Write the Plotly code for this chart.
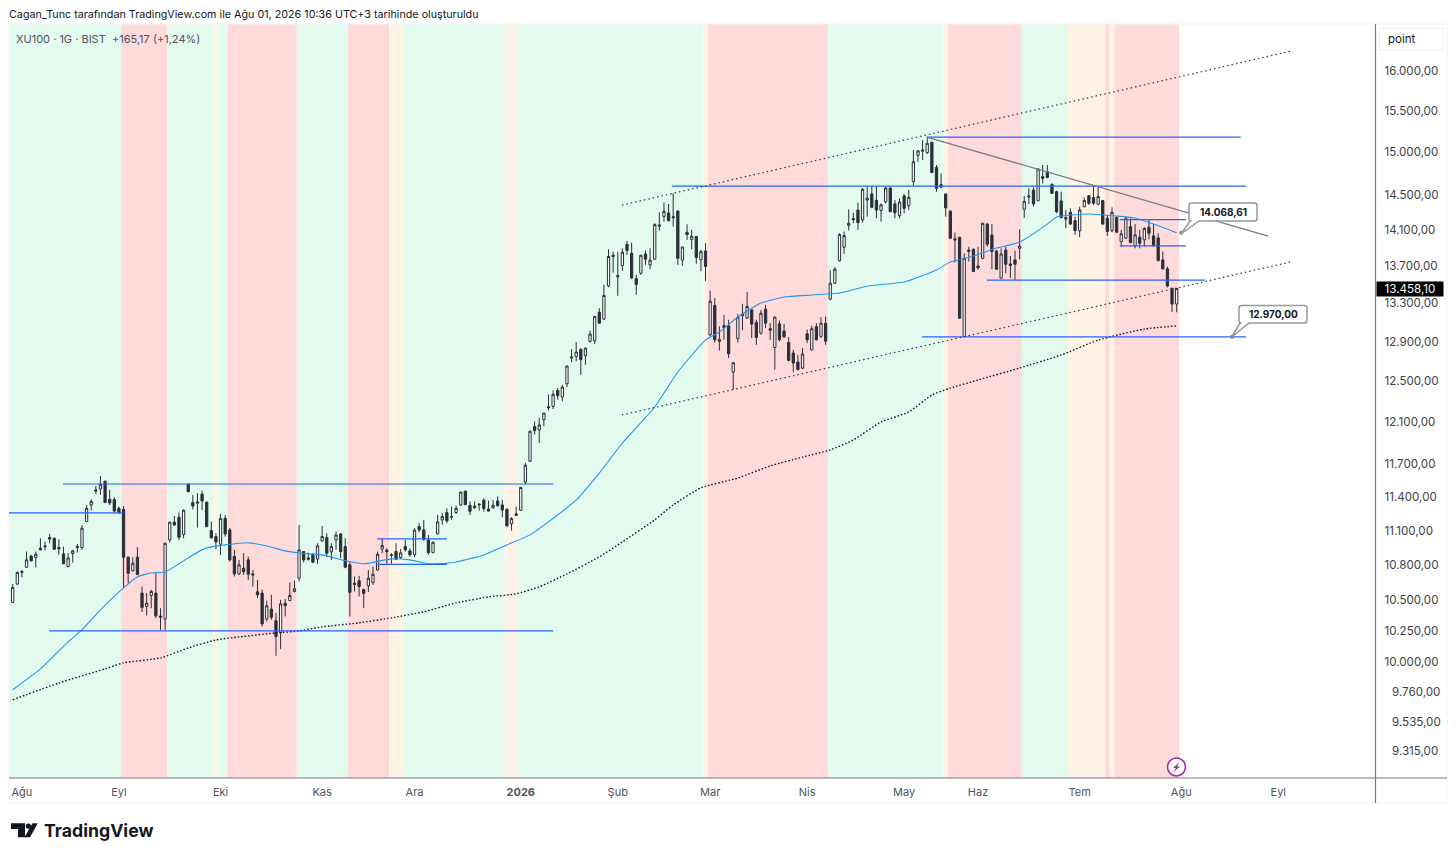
import math

import plotly.graph_objects as go

# bar numbers run from 0 at the first candle of the picture
opens = [
    10483, 10637, 10735, 10780, 10878, 10864, 10945, 10957, 11038, 11032,
    10951, 10896, 10787, 10899, 10951, 10951, 11180, 11328, 11465, 11474,
    11544, 11380, 11377, 11298, 11289, 10867, 10752, 10867, 10561, 10449,
    10541, 10561, 10370, 10345, 11017, 11174, 11218, 11064, 11517, 11350,
    11356, 11426, 11353, 11100, 11047, 10980, 11209, 11106, 10873, 10723,
    10772, 10844, 10723, 10572, 10561, 10345, 10427, 10331, 10235, 10477,
    10499, 10575, 10687, 10916, 10861, 10893, 10850, 11008, 11038, 10913,
    11017, 11070, 10959, 10801, 10645, 10665, 10592, 10623, 10651, 10757,
    10939, 10928, 10881, 10916, 10864, 10959, 10922, 10890, 11135, 11106,
    11017, 10907, 11070, 11195, 11260, 11218, 11260, 11328, 11453, 11325,
    11304, 11337, 11371, 11292, 11301, 11365, 11328, 11289, 11159, 11248,
    11281, 11536, 11730, 12058, 12026, 12124, 12250, 12253, 12410, 12345,
    12475, 12733, 12750, 12821, 12757, 12903, 12910, 13207, 13134, 13486,
    13805, 13583, 13707, 13940, 13841, 13564, 13623, 13834, 13714, 13776,
    14141, 14253, 14291, 14250, 14314, 13765, 14075, 13992, 14026, 13769,
    13867, 12972, 13277, 12903, 13065, 13065, 12592, 12934, 13186, 13144,
    13231, 13099, 12989, 13238, 13034, 12841, 13085, 13010, 12892, 12784,
    12693, 12632, 12982, 12817, 13055, 12955, 13092, 13345, 13515, 13758,
    13907, 14153, 14228, 14325, 14213, 14440, 14510, 14436, 14321, 14420,
    14579, 14395, 14261, 14487, 14375, 14653, 14963, 15027, 14995, 15118,
    14820, 14587, 14509, 14311, 14000, 14018, 12954, 13877, 13884, 13702,
    13785, 14167, 14044, 13866, 13570, 13877, 13724, 13768, 13895, 14334,
    14474, 14556, 14432, 14711, 14770, 14621, 14536, 14429, 14239, 14300,
    14205, 14090, 14364, 14491, 14468, 14391, 14434, 14231, 14090, 14243,
    13970, 14008, 14137, 13922, 14019, 13989, 14131, 14034, 14011, 13768,
    13670, 13460, 13293,
]
highs = [
    10639, 10745, 10757, 10916, 10887, 10916, 11032, 11003, 11071, 11038,
    11023, 10959, 10902, 10931, 10982, 11150, 11328, 11380, 11501, 11593,
    11550, 11465, 11398, 11313, 11319, 10873, 10867, 10954, 10617, 10561,
    10589, 10729, 10435, 10994, 11180, 11230, 11260, 11289, 11526, 11420,
    11435, 11459, 11359, 11180, 11076, 11248, 11239, 11121, 10931, 10844,
    10902, 10873, 10757, 10673, 10589, 10499, 10547, 10394, 10505, 10511,
    10651, 10667, 11150, 10920, 10907, 10902, 10988, 11141, 11076, 10988,
    11091, 11076, 11032, 10830, 10701, 10707, 10597, 10757, 10787, 10916,
    11026, 10945, 10902, 10988, 10939, 11017, 10945, 11121, 11165, 11195,
    11061, 11003, 11239, 11254, 11298, 11313, 11322, 11450, 11459, 11359,
    11359, 11343, 11389, 11368, 11374, 11405, 11374, 11298, 11218, 11313,
    11490, 11715, 12019, 12108, 12139, 12188, 12368, 12410, 12433, 12466,
    12656, 12824, 12896, 12834, 12841, 13014, 13169, 13249, 13497, 13885,
    13859, 13859, 13896, 13977, 13959, 13605, 13823, 13870, 13896, 14175,
    14299, 14410, 14395, 14517, 14318, 13914, 14164, 14101, 14033, 13878,
    13951, 13433, 13355, 13059, 13179, 13127, 12693, 13189, 13295, 13419,
    13235, 13127, 13231, 13284, 13092, 13162, 13120, 13085, 12948, 12817,
    12767, 12834, 13024, 13065, 13092, 13155, 13162, 13655, 13689, 14063,
    14082, 14333, 14295, 14410, 14575, 14594, 14600, 14594, 14400, 14594,
    14586, 14440, 14460, 14510, 14556, 15027, 15027, 15146, 15178, 15126,
    14848, 14750, 14517, 14326, 14070, 14025, 13839, 13913, 13895, 13913,
    14182, 14175, 14167, 13877, 13895, 13913, 13811, 13870, 14107, 14486,
    14575, 14587, 14809, 14848, 14848, 14632, 14548, 14536, 14326, 14345,
    14250, 14364, 14468, 14498, 14613, 14594, 14441, 14269, 14356, 14250,
    14101, 14250, 14231, 14166, 14101, 14131, 14212, 14166, 14064, 13859,
    13695, 13467, 13465,
]
lows = [
    10477, 10630, 10695, 10775, 10830, 10780, 10925, 10925, 10988, 10931,
    10887, 10808, 10781, 10821, 10907, 10931, 11178, 11278, 11429, 11420,
    11347, 11328, 11260, 11248, 10603, 10645, 10743, 10715, 10403, 10375,
    10435, 10353, 10257, 10257, 10994, 11141, 11017, 11032, 11441, 11289,
    11126, 11283, 11135, 11032, 10936, 10887, 11047, 10830, 10701, 10715,
    10715, 10673, 10617, 10519, 10285, 10326, 10339, 10047, 10100, 10367,
    10494, 10567, 10659, 10821, 10838, 10815, 10810, 11003, 10867, 10844,
    10931, 10858, 10772, 10367, 10575, 10533, 10435, 10570, 10631, 10752,
    10902, 10810, 10810, 10844, 10853, 10916, 10873, 10867, 11085, 11011,
    10887, 10902, 11067, 11150, 11165, 11195, 11248, 11322, 11328, 11239,
    11292, 11278, 11269, 11269, 11298, 11313, 11218, 11135, 11100, 11230,
    11274, 11515, 11724, 11981, 11902, 12061, 12214, 12227, 12319, 12302,
    12443, 12690, 12700, 12565, 12666, 12892, 12875, 13085, 13127, 13472,
    13630, 13380, 13652, 13823, 13564, 13391, 13605, 13714, 13667, 13769,
    14093, 14194, 14194, 14138, 13714, 13703, 13988, 13885, 13725, 13645,
    13539, 12955, 12892, 12811, 12920, 12733, 12417, 12892, 13017, 13140,
    12937, 12868, 12972, 13041, 12920, 12616, 12903, 12937, 12700, 12589,
    12609, 12622, 12885, 12811, 12913, 12937, 12868, 13331, 13507, 13750,
    13834, 14093, 14175, 14101, 14183, 14250, 14345, 14231, 14194, 14400,
    14302, 14231, 14231, 14287, 14325, 14602, 14887, 14907, 14979, 14758,
    14536, 14575, 14250, 14000, 13738, 13137, 12947, 13749, 13641, 13660,
    13774, 13913, 13666, 13663, 13565, 13623, 13570, 13552, 13774, 14235,
    14395, 14364, 14428, 14632, 14691, 14509, 14288, 14231, 14120, 14155,
    14045, 14019, 14356, 14383, 14383, 14383, 14155, 14034, 14075, 14064,
    13914, 14000, 13951, 13895, 13895, 13914, 13996, 13914, 13750, 13666,
    13471, 13209, 13205,
]
closes = [
    10609, 10735, 10743, 10844, 10836, 10893, 10931, 10965, 11026, 10936,
    10939, 10810, 10861, 10922, 10959, 11121, 11298, 11359, 11456, 11517,
    11350, 11347, 11274, 11263, 10867, 10729, 10815, 10718, 10441, 10477,
    10575, 10372, 10361, 10988, 11174, 11150, 11041, 11281, 11450, 11319,
    11347, 11365, 11135, 11035, 11000, 11206, 11070, 10844, 10723, 10801,
    10743, 10720, 10715, 10547, 10306, 10455, 10361, 10202, 10471, 10457,
    10541, 10597, 10931, 10844, 10850, 10824, 10965, 11047, 10902, 10959,
    11061, 10916, 10781, 10567, 10634, 10617, 10558, 10687, 10720, 10893,
    10968, 10916, 10887, 10850, 10905, 10931, 10887, 11103, 11106, 11023,
    10907, 10997, 11177, 11224, 11186, 11224, 11298, 11444, 11331, 11272,
    11319, 11331, 11295, 11274, 11325, 11322, 11283, 11141, 11206, 11236,
    11487, 11693, 12013, 12019, 12073, 12188, 12240, 12371, 12358, 12443,
    12653, 12743, 12794, 12717, 12834, 12979, 13162, 13092, 13384, 13805,
    13819, 13597, 13852, 13870, 13572, 13500, 13819, 13776, 13765, 14160,
    14156, 14310, 14205, 14239, 13786, 13910, 14048, 14029, 13794, 13859,
    13696, 13323, 12920, 12924, 13048, 12777, 12686, 13155, 13172, 13267,
    13082, 12944, 13196, 13092, 13020, 13155, 12920, 12951, 12710, 12683,
    12616, 12774, 12920, 13034, 12920, 13092, 12906, 13515, 13667, 14048,
    14037, 14175, 14216, 14183, 14564, 14462, 14356, 14325, 14385, 14579,
    14306, 14295, 14417, 14345, 14471, 14887, 15015, 15015, 15106, 14758,
    14575, 14618, 14349, 14007, 13989, 13144, 13785, 13863, 13641, 13681,
    14175, 13941, 13859, 13666, 13833, 13720, 13706, 13720, 13920, 14425,
    14486, 14395, 14801, 14691, 14703, 14517, 14307, 14239, 14224, 14166,
    14093, 14326, 14434, 14403, 14403, 14479, 14166, 14083, 14300, 14075,
    14056, 14228, 13959, 14045, 13951, 14116, 14064, 13925, 13761, 13670,
    13485, 13293, 13458.10,
]

ma_fast_bars = [0, 6, 12, 15, 19, 24, 27, 30, 33, 36, 39, 42, 46, 51, 55, 59, 62, 67, 72, 76, 82, 86, 90, 95, 102,
                107, 112, 116, 122, 127, 132, 139, 144, 150, 153, 157, 162, 167, 173, 179, 185, 193, 200, 203, 208,
                213, 218, 224, 226, 233, 239, 243, 247, 252]
ma_fast = [9779, 9943, 10159, 10256, 10421, 10605, 10698, 10732, 10740, 10810, 10887, 10948, 10974, 10992, 10965,
           10922, 10904, 10887, 10836, 10810, 10853, 10844, 10810, 10819, 10887, 10974, 11062, 11177, 11374, 11620,
           11901, 12247, 12593, 12916, 13001, 13156, 13303, 13367, 13389, 13410, 13483, 13527, 13657, 13744, 13810,
           13898, 13965, 14166, 14246, 14280, 14257, 14234, 14166, 14068.61]
ma_slow_bars = [0, 10, 20, 24, 32, 38, 44, 49, 57, 62, 67, 75, 82, 89, 96, 103, 109, 114, 120, 127, 132, 139, 143,
                149, 157, 164, 171, 177, 182, 188, 194, 199, 203, 209, 218, 227, 235, 245, 252]
ma_slow = [9701, 9832, 9943, 9991, 10030, 10110, 10175, 10199, 10232, 10248, 10281, 10314, 10355, 10405, 10479,
           10529, 10555, 10614, 10723, 10870, 11000, 11195, 11329, 11484, 11574, 11686, 11768, 11835, 11930, 12102,
           12199, 12364, 12432, 12513, 12633, 12764, 12917, 13031, 13063]

# drawn levels: start bar, end bar, price
level_starts = [10.9, -0.8, 7.9, 78.9, 78.9, 142.7, 197.9, 196.9, 210.9, 239.7, 239.7]
level_ends = [117, 23.9, 117, 94, 94, 267, 265.9, 267, 258.1, 254, 254]
level_prices = [11519, 11257, 10248, 11027, 10805, 14600, 15182, 12950, 13549, 14217, 13923]

channel_bars = [131.9, 276.7]
channel_upper = [14382, 16256]
channel_lower = [12170, 13745]
trend_bars = [197.9, 271.8]
trend_prices = [15182, 14032]

callout_bars = [253, 264]
callout_prices = [14068.61, 12950]
callout_texts = ["14.068,61", "12.970,00"]

band_edges = [-0.8, 23.5, 33.5, 43.5, 44.5, 46.5, 61.5, 72.5, 81.5, 84.5, 106.5, 109.5, 149.5, 150.5, 176.5, 201.5,
              202.5, 218.5, 228.5, 236.5, 237.5, 238.5, 252.5]
band_kinds = ["up", "down", "up", "flat", "up", "down", "up", "down", "flat", "up", "flat", "up", "flat", "down", "up",
              "flat", "down", "up", "flat", "down", "flat", "down"]
band_colours = {"up": "#e3faee", "down": "#ffdada", "flat": "#fff3e6"}

price_ticks = [16000, 15500, 15000, 14500, 14100, 13700, 13300, 12900, 12500, 12100, 11700, 11400, 11100, 10800,
               10500, 10250, 10000, 9760, 9535, 9315]
price_labels = ["16.000,00", "15.500,00", "15.000,00", "14.500,00", "14.100,00", "13.700,00", "13.300,00",
                "12.900,00", "12.500,00", "12.100,00", "11.700,00", "11.400,00", "11.100,00", "10.800,00",
                "10.500,00", "10.250,00", "10.000,00", "\u20079.760,00", "\u20079.535,00", "\u20079.315,00"]
month_ticks = [2, 23, 45, 67, 87, 110, 131, 151, 172, 193, 209, 231, 253, 274]
month_labels = ["Ağu", "Eyl", "Eki", "Kas", "Ara", "<b>2026</b>", "Şub", "Mar", "Nis", "May", "Haz", "Tem", "Ağu", "Eyl"]

W = 1440
H = 841
FONT = "Inter"
INK = "#2a2e39"


def fx(px):
    return (px - 8) / W


def fy(px):
    return 1 - (px - 8) / H


def poly(points):
    return "M " + " L ".join(f"{fx(x)} {fy(y)}" for x, y in points) + " Z"


def page_text(fig, px, py, text, size, color, anchor="left", **kw):
    fig.add_annotation(xref="paper", yref="paper", x=fx(px), y=fy(py), text=text, showarrow=False,
                       xanchor=anchor, yanchor="middle", font=dict(family=FONT, size=size, color=color), **kw)


def add_line(fig, xs, ys, color, width, dash="solid", shape="linear", smoothing=None):
    fig.add_trace(go.Scatter(x=xs, y=ys, mode="lines", hoverinfo="skip", showlegend=False,
                             line=dict(color=color, width=width, dash=dash, shape=shape, smoothing=smoothing)))


def add_callout(fig, text, tip, box):
    # rounded label box with its tail, page pixels
    x0, y0, x1, y1 = box
    r = 2.5
    p = lambda x, y: f"{fx(x)} {fy(y)}"
    path = (f"M {p(x0 + r, y0)} L {p(x1 - r, y0)} Q {p(x1, y0)} {p(x1, y0 + r)} L {p(x1, y1 - r)} "
            f"Q {p(x1, y1)} {p(x1 - r, y1)} L {p(x0 + 10, y1)} L {p(*tip)} L {p(x0 + 1, y1)} L {p(x0 + r, y1)} "
            f"Q {p(x0, y1)} {p(x0, y1 - r)} L {p(x0, y0 + r)} Q {p(x0, y0)} {p(x0 + r, y0)} Z")
    fig.add_shape(type="path", xref="paper", yref="paper", path=path, fillcolor="white",
                  line=dict(color="#9598a1", width=1.5))
    page_text(fig, (x0 + x1) / 2, (y0 + y1) / 2 - 0.5, f"<b>{text}</b>", 10, "#131722", anchor="center")


def build_figure():
    fig = go.Figure()
    bars = list(range(len(closes)))
    fig.add_trace(go.Candlestick(
        x=bars, open=opens, high=highs, low=lows, close=closes, hoverinfo="skip", showlegend=False,
        increasing=dict(fillcolor="white", line=dict(color=INK, width=1)),
        decreasing=dict(fillcolor=INK, line=dict(color=INK, width=1)),
    ))

    for i, kind in enumerate(band_kinds):
        fig.add_shape(type="rect", xref="x", yref="y domain", x0=band_edges[i], x1=band_edges[i + 1], y0=0, y1=1,
                      fillcolor=band_colours[kind], line_width=0, layer="below")

    add_line(fig, ma_fast_bars, ma_fast, "#2196f3", 1.1, shape="spline", smoothing=0.5)
    add_line(fig, ma_slow_bars, ma_slow, "#131722", 1.4, dash="1.5px,2px", shape="spline", smoothing=0.5)
    for start, end, price in zip(level_starts, level_ends, level_prices):
        add_line(fig, [start, end], [price, price], "#2962ff", 1.2)
    add_line(fig, channel_bars, channel_upper, "#3e4149", 1.3, dash="1.5px,3px")
    add_line(fig, channel_bars, channel_lower, "#3e4149", 1.3, dash="1.5px,3px")
    add_line(fig, trend_bars, trend_prices, "#787b86", 1.3)

    add_callout(fig, callout_texts[0], (1181, 234), (1189, 203, 1257, 221))
    add_callout(fig, callout_texts[1], (1231.7, 337), (1239, 305.5, 1307, 323))
    fig.add_trace(go.Scatter(x=callout_bars, y=callout_prices, mode="markers", hoverinfo="skip", showlegend=False,
                             cliponaxis=False, marker=dict(color="#787b86", size=4)))

    # frame and axis rules
    fig.add_shape(type="rect", xref="paper", yref="paper", x0=fx(9), x1=fx(1447), y0=fy(803), y1=fy(24),
                  line=dict(color="#f0f3fa", width=1), layer="below")
    fig.add_shape(type="line", xref="paper", yref="paper", x0=fx(9), x1=fx(1447), y0=fy(778), y1=fy(778),
                  line=dict(color="#787b86", width=1.2))
    fig.add_shape(type="line", xref="paper", yref="paper", x0=fx(1375.5), x1=fx(1375.5), y0=fy(803), y1=fy(24),
                  line=dict(color="#787b86", width=1.2))
    fig.add_shape(type="rect", xref="paper", yref="paper", x0=fx(1379), x1=fx(1443), y0=fy(50), y1=fy(28),
                  line=dict(color="#eceef3", width=1))

    # event marker on the time axis
    fig.add_shape(type="circle", xref="paper", yref="paper", x0=fx(1167.5), x1=fx(1185.5), y0=fy(776), y1=fy(758),
                  fillcolor="white", line=dict(color="#9c27b0", width=1.5))
    fig.add_shape(type="path", xref="paper", yref="paper", fillcolor="#9c27b0", line_width=0,
                  path=poly([(1179.5, 762), (1173, 768), (1176, 768), (1173, 772.5), (1180, 766.5), (1177, 766.5)]))

    # logo
    logo = [[(11, 823.3), (25, 823.3), (25, 837.3), (18, 837.3), (18, 829), (11, 829)],
            [(32.5, 823.3), (37.8, 823.3), (30, 837.3), (24.5, 837.3)]]
    for part in logo:
        fig.add_shape(type="path", xref="paper", yref="paper", path=poly(part), fillcolor="#131722", line_width=0)
    fig.add_shape(type="circle", xref="paper", yref="paper", x0=fx(25.7), x1=fx(31), y0=fy(828.8), y1=fy(823.4),
                  fillcolor="#131722", line_width=0)
    page_text(fig, 42, 830.5, "<b>TradingView</b>", 17.7, "#131722")

    page_text(fig, 7, 14, "Cagan_Tunc tarafından TradingView.com ile Ağu 01, 2026 10:36 UTC+3 tarihinde oluşturuldu",
              10.75, "#131722")
    page_text(fig, 14, 38.5, "XU100 · 1G · BIST&nbsp;&nbsp;+165,17 (+1,24%)", 11, "#50535e")
    page_text(fig, 1386, 39, "point", 11.5, "#131722")

    # last price flag, annotations on a log axis take log10 of the value
    fig.add_annotation(xref="paper", yref="y", x=fx(1375.5), y=math.log10(closes[-1]), xanchor="left", yanchor="middle",
                       text="13.458,10", showarrow=False, bgcolor="#000000", borderpad=0, width=66, height=14,
                       font=dict(family=FONT, size=11.6, color="white"))

    fig.update_layout(
        width=W, height=H, margin=dict(l=0, r=0, t=0, b=0), autosize=False,
        paper_bgcolor="white", plot_bgcolor="white", showlegend=False, hovermode=False,
        font=dict(family=FONT, color="#131722"),
        xaxis=dict(domain=[fx(9), fx(1375.5)], range=[-0.8, 295.05], rangeslider=dict(visible=False),
                   tickmode="array", tickvals=month_ticks, ticktext=month_labels, ticks="", showgrid=False,
                   zeroline=False, showline=False, ticklabelstandoff=6,
                   tickfont=dict(family=FONT, size=11, color="#50535e")),
        yaxis=dict(domain=[fy(778), fy(24)], type="log", range=[3.9598, 4.2204], side="right",
                   tickmode="array", tickvals=price_ticks, ticktext=price_labels, ticks="", showgrid=False,
                   zeroline=False, showline=False, ticklabelstandoff=8,
                   tickfont=dict(family=FONT, size=11.6, color="#3e4149")),
    )
    return fig


fig = build_figure()
fig.write_html("out.html")
